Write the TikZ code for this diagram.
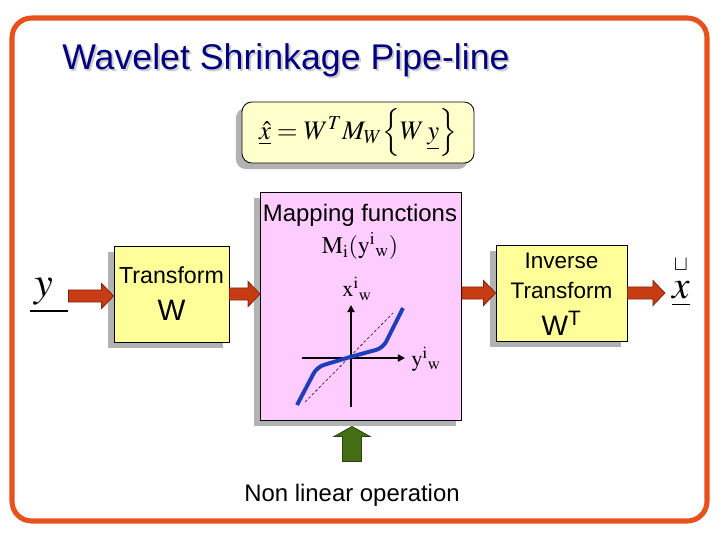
\documentclass[tikz,border=0pt]{standalone}
\usepackage{mathptmx}
\usepackage[no-math]{fontspec}
\setmainfont{Liberation Sans}
\usetikzlibrary{calc,shadows,arrows.meta}

\definecolor{framered}{RGB}{232,80,30}
\definecolor{titleblue}{RGB}{0,0,128}
\definecolor{boxyellow}{RGB}{255,255,153}
\definecolor{paleyellow}{RGB}{255,255,204}
\definecolor{boxpink}{RGB}{255,204,255}
\definecolor{arrowred}{RGB}{200,60,20}
\definecolor{arrowgreen}{RGB}{70,110,20}
\definecolor{curveblue}{RGB}{30,60,190}

\begin{document}
\begin{tikzpicture}[x=0.025cm,y=-0.025cm,
  box/.style={draw=black, line width=0.6pt,
    drop shadow={shadow xshift=-4.3pt,shadow yshift=-4.3pt,opacity=1,fill=black!30}},
  harrow/.style={draw=arrowred!65!black, fill=arrowred, line width=0.6pt,
    to path={let \p1=(\tikztostart), \p2=(\tikztotarget) in
      (\x1,\y1+4.3pt) -- (\x2-8.5pt,\y1+4.3pt) -- (\x2-8.5pt,\y1+8.9pt) -- (\x2,\y1)
      -- (\x2-8.5pt,\y1-8.9pt) -- (\x2-8.5pt,\y1-4.3pt) -- (\x1,\y1-4.3pt) -- cycle}},
  varrow/.style={draw=arrowgreen!60!black, fill=arrowgreen, line width=0.6pt,
    to path={let \p1=(\tikztostart), \p2=(\tikztotarget) in
      (\x1-6.8pt,\y1) -- (\x1-6.8pt,\y2-7.1pt) -- (\x1-12.8pt,\y2-7.1pt) -- (\x1,\y2)
      -- (\x1+12.8pt,\y2-7.1pt) -- (\x1+6.8pt,\y2-7.1pt) -- (\x1+6.8pt,\y1) -- cycle}},
  axis/.style={line width=1.3pt, -{Triangle[length=5pt,width=5pt]}}]

\useasboundingbox (0,0) rectangle (720,540);

\draw[framered, line width=3.6pt, rounded corners=14pt] (12,18) rectangle (707,521);

%%%%% Title
\node[anchor=west, inner sep=0pt, text=black!20, font=\fontsize{25.4}{30}\selectfont] (titleshadow) at (64,62) {Wavelet Shrinkage Pipe-line};
\node[anchor=west, inner sep=0pt, text=titleblue, font=\fontsize{25.4}{30}\selectfont] (title) at (62,60) {Wavelet Shrinkage Pipe-line};

%%%%% Formula
\node[box, rounded corners=7pt, fill=paleyellow, minimum width=165pt, minimum height=43.4pt, font=\fontsize{19}{22}\selectfont] (eq) at (358,132.5)
  {$\underline{\hat{x}} = W^{T} M_{W} \Big\{ W\,\underline{y} \Big\}$};

%%%%% Boxes
\node[box, fill=boxyellow, minimum width=81.8pt, minimum height=68.3pt] (tf) at (171.5,294) {};
\node[box, fill=boxpink, minimum width=143pt, minimum height=162.2pt] (map) at (361,306) {};
\node[box, fill=boxyellow, minimum width=93.2pt, minimum height=68.3pt] (inv) at (561.5,293) {};

\node[font=\fontsize{16.5}{20}\selectfont] (tftxt) at (171.5,275) {Transform};
\node[font=\fontsize{21}{24}\selectfont] (tfw) at (171.5,310) {W};

\node[font=\fontsize{16}{20}\selectfont] (invtxt) at (561.5,261) {Inverse};
\node[font=\fontsize{16}{20}\selectfont] (invtf) at (561.5,290) {Transform};
\node[font=\fontsize{20}{24}\selectfont] (invw) at (561.5,323) {W\textsuperscript{T}};

\node[font=\fontsize{17}{20}\selectfont] (maptxt) at (360,215) {Mapping functions};
\node[font=\fontsize{17}{20}\selectfont] (mapfn) at (360,246) {$\mathrm{M_{i}(y^{i}{}_{w})}$};

%%%%% Small plot
\node[font=\fontsize{16}{19}\selectfont] (xw) at (357,289) {$\mathrm{x^{i}{}_{w}}$};
\node[font=\fontsize{16}{19}\selectfont] (yw) at (426,359) {$\mathrm{y^{i}{}_{w}}$};
\draw[axis] (351,407) -- (351,305);
\draw[axis] (302,358) -- (405,358);
\draw[dash pattern=on 2pt off 1.5pt, line width=0.4pt] (305,402) -- (393,313);
\draw[curveblue, line width=2.8pt, rounded corners=5pt] (297,405) -- (317,367) -- (350,357) -- (383,348) -- (403,308);

%%%%% Input and output
\node[font=\fontsize{30}{34}\selectfont] (ylab) at (49,296) {$\underline{\,y\;\,}$};
\node[inner sep=1pt, font=\fontsize{28}{32}\selectfont] (xlab) at (681,294) {$\underline{x}$};
\node[inner sep=0pt, font=\fontsize{15}{17}\selectfont] (xcup) at (681,265) {$\sqcup$};

\draw[harrow] ([xshift=-3pt]ylab.east) to (tf.west);
\draw[harrow] (tf.east) to (map.west);
\draw[harrow] (map.east |- inv.west) to (inv.west);
\draw[harrow] (inv.east) to ([xshift=-4pt]xlab.west);

%%%%% Non linear operation
\node[anchor=base, inner sep=0pt, font=\fontsize{17}{20}\selectfont] (nl) at (352,501) {Non linear operation};
\draw[varrow] ([yshift=15.6pt]nl.north) to ([yshift=-4.3pt]map.south);

\end{tikzpicture}
\end{document}
